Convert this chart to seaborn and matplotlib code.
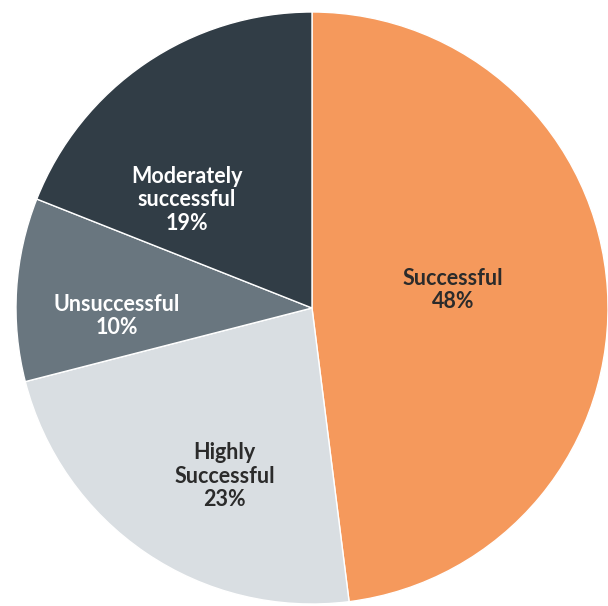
import numpy as np
import matplotlib
matplotlib.use("Agg")
import matplotlib.pyplot as plt
import seaborn as sns

sns.set_theme(style="white")
plt.rcParams["font.family"] = ["Lato", "DejaVu Sans"]

# Outcome shares
categories = ["Successful", "Highly\nSuccessful", "Unsuccessful", "Moderately\nsuccessful"]
shares = [48, 23, 10, 19]
colors = ["#F5995C", "#D9DEE2", "#69767F", "#313D46"]
text_colors = ["#2B2B2B", "#2B2B2B", "#FFFFFF", "#FFFFFF"]
# label placement: radius and angular nudge (degrees) from wedge centre
label_radius = [0.48, 0.64, 0.66, 0.56]
label_nudge = [3.7, 6.7, 6.0, 15.0]

fig = plt.figure(figsize=(6.08, 6.06), dpi=100)
ax = fig.add_axes([0, 0, 1, 1])

wedges, _ = ax.pie(
    shares,
    colors=colors,
    startangle=90,
    counterclock=False,
    radius=1.0,
    wedgeprops=dict(edgecolor="white", linewidth=1.0),
)

for w, cat, val, tc, r, dn in zip(wedges, categories, shares, text_colors,
                                   label_radius, label_nudge):
    mid = np.deg2rad((w.theta1 + w.theta2) / 2 + dn)
    ax.text(r * np.cos(mid), r * np.sin(mid), f"{cat}\n{val}%",
            ha="center", va="center", color=tc, fontsize=15.5,
            fontweight="bold", linespacing=1.15)

ax.set_xlim(-312 / 296, (608 - 312) / 296)
ax.set_ylim(-(606 - 308) / 296, 308 / 296)
ax.set_aspect("auto")
ax.axis("off")

fig.savefig("out.png", dpi=100, facecolor="white")
